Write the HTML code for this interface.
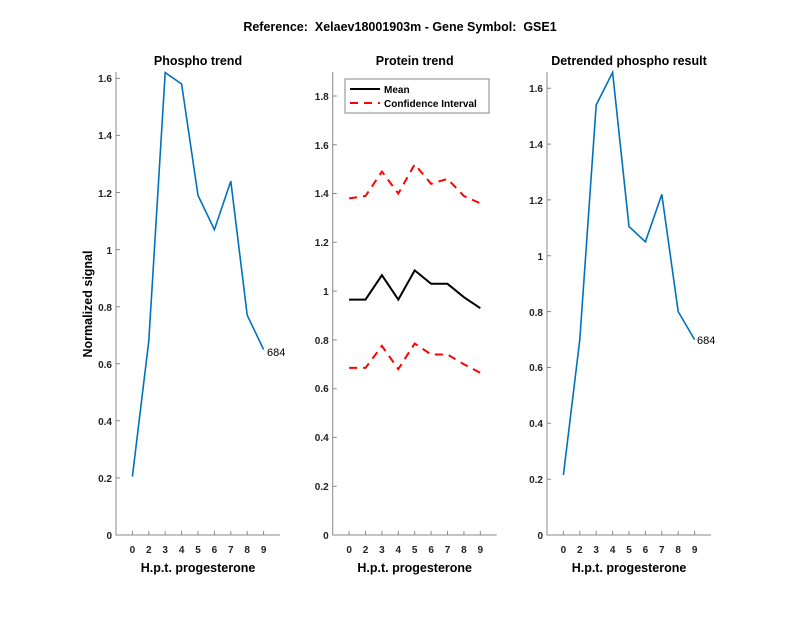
<!DOCTYPE html>
<html><head><style>body{margin:0;background:#fff}svg{display:block}text{font-family:"Liberation Sans",Arial,sans-serif}</style></head>
<body>
<svg width="800" height="618" viewBox="0 0 800 618" xmlns="http://www.w3.org/2000/svg">
<text x="400" y="31" text-anchor="middle" font-size="12.5" font-weight="bold">Reference: &#160;Xelaev18001903m - Gene Symbol: &#160;GSE1</text>
<g font-size="10" fill="#222">
<!-- Left panel -->
<text x="198" y="65" text-anchor="middle" font-size="12.5" font-weight="bold" fill="#000">Phospho trend</text>
<g stroke="#888" stroke-width="1" fill="none">
<path d="M116,72V535H280"/>
<path d="M116,477.9h4M116,420.8h4M116,363.8h4M116,306.7h4M116,249.6h4M116,192.5h4M116,135.4h4M116,78.4h4"/>
<path d="M132.4,535v-4M148.8,535v-4M165.2,535v-4M181.6,535v-4M198,535v-4M214.4,535v-4M230.8,535v-4M247.2,535v-4M263.6,535v-4"/>
</g>
<g text-anchor="end" font-weight="bold">
<text x="112" y="539">0</text><text x="112" y="482">0.2</text><text x="112" y="425">0.4</text><text x="112" y="368">0.6</text><text x="112" y="311">0.8</text><text x="112" y="254">1</text><text x="112" y="197">1.2</text><text x="112" y="139">1.4</text><text x="112" y="82">1.6</text>
</g>
<g text-anchor="middle" font-weight="bold">
<text x="132.4" y="553">0</text><text x="148.8" y="553">2</text><text x="165.2" y="553">3</text><text x="181.6" y="553">4</text><text x="198" y="553">5</text><text x="214.4" y="553">6</text><text x="230.8" y="553">7</text><text x="247.2" y="553">8</text><text x="263.6" y="553">9</text>
<text x="198" y="572" font-size="12.5" fill="#000">H.p.t. progesterone</text>
</g>
<text transform="translate(92,304) rotate(-90)" text-anchor="middle" font-size="12.5" font-weight="bold" fill="#000">Normalized signal</text>
<polyline fill="none" stroke="#0072BD" stroke-width="1.6" points="132.4,476.5 148.8,340.9 165.2,72.6 181.6,84 198,195.4 214.4,229.6 230.8,181.1 247.2,315.2 263.6,349.5"/>
<text x="267" y="356" fill="#000" font-size="11">684</text>

<!-- Middle panel -->
<text x="414.7" y="65" text-anchor="middle" font-size="12.5" font-weight="bold" fill="#000">Protein trend</text>
<g stroke="#888" stroke-width="1" fill="none">
<path d="M332.7,72V535H496.7"/>
<path d="M332.7,486.2h4M332.7,437.4h4M332.7,388.7h4M332.7,339.9h4M332.7,291.1h4M332.7,242.3h4M332.7,193.5h4M332.7,144.8h4M332.7,96h4"/>
<path d="M349.1,535v-4M365.5,535v-4M381.9,535v-4M398.3,535v-4M414.7,535v-4M431.1,535v-4M447.5,535v-4M463.9,535v-4M480.3,535v-4"/>
</g>
<g text-anchor="end" font-weight="bold">
<text x="328.7" y="539">0</text><text x="328.7" y="490">0.2</text><text x="328.7" y="441">0.4</text><text x="328.7" y="392">0.6</text><text x="328.7" y="344">0.8</text><text x="328.7" y="295">1</text><text x="328.7" y="246">1.2</text><text x="328.7" y="197">1.4</text><text x="328.7" y="149">1.6</text><text x="328.7" y="100">1.8</text>
</g>
<g text-anchor="middle" font-weight="bold">
<text x="349.1" y="553">0</text><text x="365.5" y="553">2</text><text x="381.9" y="553">3</text><text x="398.3" y="553">4</text><text x="414.7" y="553">5</text><text x="431.1" y="553">6</text><text x="447.5" y="553">7</text><text x="463.9" y="553">8</text><text x="480.3" y="553">9</text>
<text x="414.7" y="572" font-size="12.5" fill="#000">H.p.t. progesterone</text>
</g>
<polyline fill="none" stroke="#ff0000" stroke-width="2" stroke-dasharray="8,6" points="349.1,198.4 365.5,196 381.9,171.6 398.3,193.5 414.7,164.3 431.1,183.8 447.5,178.9 463.9,196 480.3,203.3"/>
<polyline fill="none" stroke="#000" stroke-width="2" points="349.1,299.6 365.5,299.6 381.9,275.2 398.3,299.6 414.7,270.4 431.1,283.8 447.5,283.8 463.9,297.2 480.3,308.2"/>
<polyline fill="none" stroke="#ff0000" stroke-width="2" stroke-dasharray="8,6" points="349.1,367.9 365.5,367.9 381.9,346 398.3,369.1 414.7,343.5 431.1,354.5 447.5,354.5 463.9,364.3 480.3,372.8"/>
<rect x="345" y="79" width="144" height="34" fill="#fff" stroke="#888"/>
<line x1="350" y1="89" x2="380" y2="89" stroke="#000" stroke-width="2"/>
<line x1="350" y1="103" x2="380" y2="103" stroke="#f00" stroke-width="2" stroke-dasharray="8,6"/>
<text x="384" y="93" font-weight="bold" fill="#000">Mean</text>
<text x="384" y="107" font-weight="bold" fill="#000">Confidence Interval</text>

<!-- Right panel -->
<text x="629" y="65" text-anchor="middle" font-size="12.5" font-weight="bold" fill="#000">Detrended phospho result</text>
<g stroke="#888" stroke-width="1" fill="none">
<path d="M547,72V535H711"/>
<path d="M547,479.2h4M547,423.3h4M547,367.5h4M547,311.6h4M547,255.8h4M547,199.9h4M547,144.1h4M547,88.3h4"/>
<path d="M563.4,535v-4M579.8,535v-4M596.2,535v-4M612.6,535v-4M629,535v-4M645.4,535v-4M661.8,535v-4M678.2,535v-4M694.6,535v-4"/>
</g>
<g text-anchor="end" font-weight="bold">
<text x="543" y="539">0</text><text x="543" y="483">0.2</text><text x="543" y="427">0.4</text><text x="543" y="371">0.6</text><text x="543" y="316">0.8</text><text x="543" y="260">1</text><text x="543" y="204">1.2</text><text x="543" y="148">1.4</text><text x="543" y="92">1.6</text>
</g>
<g text-anchor="middle" font-weight="bold">
<text x="563.4" y="553">0</text><text x="579.8" y="553">2</text><text x="596.2" y="553">3</text><text x="612.6" y="553">4</text><text x="629" y="553">5</text><text x="645.4" y="553">6</text><text x="661.8" y="553">7</text><text x="678.2" y="553">8</text><text x="694.6" y="553">9</text>
<text x="629" y="572" font-size="12.5" fill="#000">H.p.t. progesterone</text>
</g>
<polyline fill="none" stroke="#0072BD" stroke-width="1.6" points="563.4,475 579.8,339.6 596.2,105 612.6,72.4 629,226.5 645.4,241.8 661.8,194.4 678.2,311.6 694.6,339.6"/>
<text x="697" y="344" fill="#000" font-size="11">684</text>
</g>
</svg>
</body></html>
